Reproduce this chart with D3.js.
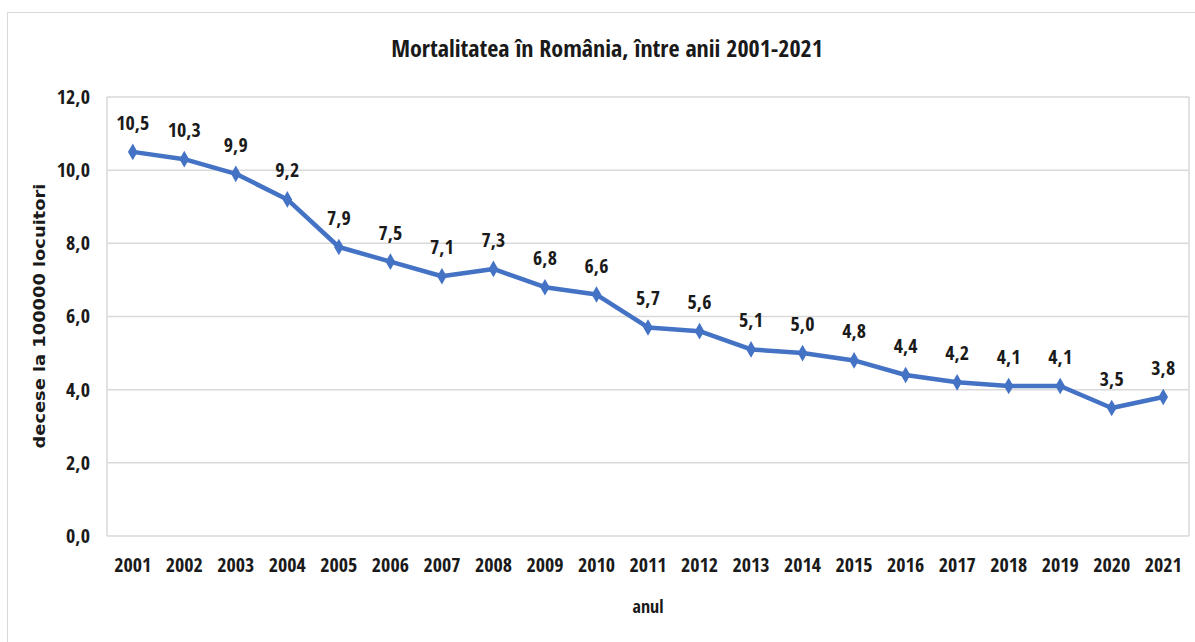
<!DOCTYPE html>
<html><head><meta charset="utf-8">
<script src="https://cdn.jsdelivr.net/npm/d3@7"></script>
<style>
body{margin:0;background:#fff;}
text{font-family:"Open Sans Condensed","Liberation Sans Narrow","Liberation Sans",Arial,sans-serif;font-weight:bold;fill:#1a1a1a;}
</style></head>
<body><svg id="c" width="1195" height="642"></svg>
<script>
const years = ["2001","2002","2003","2004","2005","2006","2007","2008","2009","2010","2011","2012","2013","2014","2015","2016","2017","2018","2019","2020","2021"];
const values = [10.5,10.3,9.9,9.2,7.9,7.5,7.1,7.3,6.8,6.6,5.7,5.6,5.1,5.0,4.8,4.4,4.2,4.1,4.1,3.5,3.8];
const yTicks = [0,2,4,6,8,10,12];
const title = "Mortalitatea în România, între anii 2001-2021";
const yTitle = "decese la 100000 locuitori";
const xTitle = "anul";

const svg = d3.select("#c");
const fmt = v => v.toFixed(1).replace(".", ",");
const m = {l:107, r:1189, t:97, b:536};

svg.append("rect").attr("x",7.5).attr("y",12.5).attr("width",1195).attr("height",640)
  .attr("fill","#fff").attr("stroke","#d9d9d9");

const x = d3.scaleBand().domain(years).range([m.l, m.r]);
const y = d3.scaleLinear().domain([0,12]).range([m.b, m.t]);

// gridlines
svg.append("g").selectAll("line").data(yTicks).join("line")
  .attr("x1",m.l).attr("x2",m.r).attr("y1",d=>y(d)).attr("y2",d=>y(d))
  .attr("stroke","#d9d9d9").attr("stroke-width",1.5);
svg.append("line").attr("x1",m.l).attr("x2",m.l).attr("y1",m.t).attr("y2",m.b).attr("stroke","#d9d9d9").attr("stroke-width",1.5);
svg.append("line").attr("x1",m.r).attr("x2",m.r).attr("y1",m.t).attr("y2",m.b).attr("stroke","#d9d9d9").attr("stroke-width",1.5);

// y axis
const ya = svg.append("g").attr("transform",`translate(${m.l},0)`)
  .call(d3.axisLeft(y).tickValues(yTicks).tickFormat(fmt).tickSize(0).tickPadding(17));
ya.select(".domain").remove();
ya.selectAll("text").style("font-size","20px").style("font-family",null).attr("fill","#1a1a1a");

// x axis
const xa = svg.append("g").attr("transform",`translate(0,${m.b})`)
  .call(d3.axisBottom(x).tickSize(0).tickPadding(22));
xa.select(".domain").remove();
xa.selectAll("text").style("font-size","20px").style("font-family",null).attr("fill","#1a1a1a");

// line
const cx = (d,i) => x(years[i]) + x.bandwidth()/2;
svg.append("path").datum(values)
  .attr("d", d3.line().x(cx).y(d=>y(d)))
  .attr("fill","none").attr("stroke","#4472C4").attr("stroke-width",4.5).attr("stroke-linejoin","round");
svg.append("g").selectAll("path").data(values).join("path")
  .attr("d", d3.symbol(d3.symbolDiamond, 80))
  .attr("transform",(d,i)=>`translate(${cx(d,i)},${y(d)})`)
  .attr("fill","#4472C4");

// labels
svg.append("g").selectAll("text").data(values).join("text")
  .attr("x",cx).attr("y",d=>y(d)-22)
  .attr("text-anchor","middle").style("font-size","20px").text(fmt);

// titles
svg.append("text").attr("x",607).attr("y",57).attr("text-anchor","middle").style("font-size","24px").text(title);
svg.append("text").attr("x",648).attr("y",613).attr("text-anchor","middle").style("font-size","18px").text(xTitle);
svg.append("text").attr("transform","translate(45,316) rotate(-90) scale(1.19,1)").attr("text-anchor","middle").style("font-size","15px")
  .style("font-family","'DejaVu Sans',sans-serif").text(yTitle);
</script></body></html>
